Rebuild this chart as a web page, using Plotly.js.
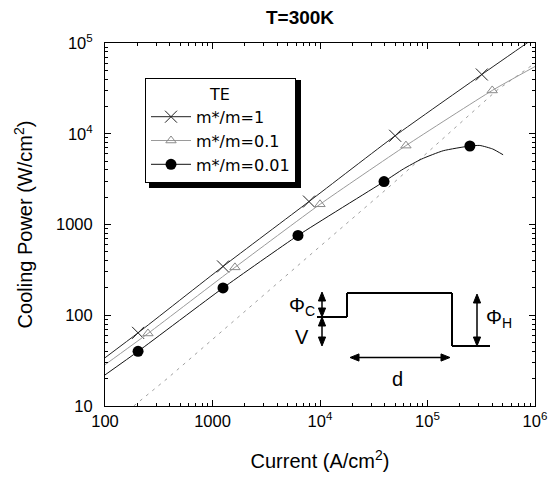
<!DOCTYPE html>
<html>
<head>
<meta charset="utf-8">
<script src="https://cdn.plot.ly/plotly-3.0.1.min.js"></script>
<style>html,body{margin:0;padding:0;background:#fff;}#chart{width:552px;height:477px;}</style>
</head>
<body>
<div id="chart"></div>
<script>
// ---- data ----
const xTickVals = [100, 1000, 1e4, 1e5, 1e6];
const xTickText = ['100', '1000', '10<sup>4</sup>', '10<sup>5</sup>', '10<sup>6</sup>'];
const yTickVals = [10, 100, 1000, 1e4, 1e5];
const yTickText = ['10', '100', '1000', '10<sup>4</sup>', '10<sup>5</sup>'];

const seriesNames = ['m*/m=1', 'm*/m=0.1', 'm*/m=0.01'];

// m*/m = 1
const m1LineX = [100, 203, 1253, 7900, 50000, 320000, 1000000];
const m1LineY = [34, 64, 345, 1790, 9500, 45000, 115000];
const m1MarkX = [203, 1253, 7900, 50000, 320000];
const m1MarkY = [64, 345, 1790, 9500, 45000];

// m*/m = 0.1
const m01LineX = [100, 251, 1617, 10000, 63000, 400000, 1000000];
const m01LineY = [28.5, 63, 337, 1670, 7400, 30000, 55000];
const m01MarkX = [251, 1617, 10000, 63000, 400000];
const m01MarkY = [63, 337, 1670, 7400, 30000];

// m*/m = 0.01
const m001LineX = [100, 203, 1253, 6240, 39400, 59600, 88300, 140000, 248000, 307000, 404000, 505000];
const m001LineY = [22, 40, 200, 757, 2970, 4090, 5270, 6500, 7330, 7430, 6790, 5870];
const m001MarkX = [203, 1253, 6240, 39400, 248000];
const m001MarkY = [40, 200, 757, 2970, 7330];

// dashed reference line
const refX = [185, 378, 8610, 44800, 440000, 1000000];
const refY = [10, 20, 492, 2650, 30000, 60000];

// ---- plot ----
const FONT = 'Liberation Sans, Arial, sans-serif';
const LFONT = 'DejaVu Sans, Liberation Sans, sans-serif';
const W = 552, H = 477;
const L = 105, R = 17, T = 43, B = 71;
const pw = W - L - R, ph = H - T - B;
const px = v => (v - L) / pw;
const py = v => (H - B - v) / ph;

const styles = [
  {line: {color: '#222', width: 1}, marker: {symbol: 'x-thin-open', size: 12, color: '#222', line: {color: '#222', width: 1}}},
  {line: {color: '#9a9a9a', width: 1}, marker: {symbol: 'triangle-up-open', size: 9, color: '#8a8a8a', line: {color: '#8a8a8a', width: 1}}},
  {line: {color: '#111', width: 1}, marker: {symbol: 'circle', size: 11, color: '#000'}}
];
const lines = [[m1LineX, m1LineY], [m01LineX, m01LineY], [m001LineX, m001LineY]];
const marks = [[m1MarkX, m1MarkY], [m01MarkX, m01MarkY], [m001MarkX, m001MarkY]];

const data = [];
data.push({x: refX, y: refY, mode: 'lines', showlegend: false, hoverinfo: 'skip',
  line: {color: '#a0a0a0', width: 1, dash: '3px,5px'}});
for (let i = 0; i < 3; i++) {
  data.push({x: lines[i][0], y: lines[i][1], mode: 'lines', showlegend: false,
    line: Object.assign({shape: 'spline', smoothing: 0.5}, styles[i].line)});
  data.push({x: marks[i][0], y: marks[i][1], mode: 'markers', showlegend: false, marker: styles[i].marker});
}
for (let i = 0; i < 3; i++) {
  data.push({x: [null], y: [null], mode: 'lines+markers', name: seriesNames[i],
    line: styles[i].line, marker: styles[i].marker});
}

// ---- inset schematic (pixel positions converted to paper) ----
function seg(x0, y0, x1, y1, w) {
  return {type: 'line', xref: 'paper', yref: 'paper', x0: px(x0), y0: py(y0), x1: px(x1), y1: py(y1),
    line: {color: '#000', width: w || 2}};
}
function head(tx, ty, dx, dy) {
  const len = 9, hw = 3.6;
  const bx = tx - dx * len, by = ty - dy * len;
  const nx = -dy, ny = dx;
  const pts = [[tx, ty], [bx + nx * hw, by + ny * hw], [bx - nx * hw, by - ny * hw]];
  const d = 'M' + pts.map(p => px(p[0]) + ',' + py(p[1])).join(' L') + ' Z';
  return {type: 'path', xref: 'paper', yref: 'paper', path: d, fillcolor: '#000', line: {color: '#000', width: 1}};
}
function dbl(xa, ya, xb, yb) {
  const Lg = Math.hypot(xb - xa, yb - ya);
  const dx = (xb - xa) / Lg, dy = (yb - ya) / Lg;
  return [seg(xa + dx * 4, ya + dy * 4, xb - dx * 4, yb - dy * 4, 1.5), head(xb, yb, dx, dy), head(xa, ya, -dx, -dy)];
}
function lab(x, y, t) {
  return {xref: 'paper', yref: 'paper', x: px(x), y: py(y), text: t, showarrow: false,
    xanchor: 'center', yanchor: 'middle', font: {family: FONT, size: 20, color: '#000'}};
}

const shapes = [
  // legend drop shadow
  {type: 'rect', xref: 'paper', yref: 'paper', x0: px(149), y0: py(80), x1: px(301), y1: py(188),
    fillcolor: '#000', line: {width: 0}, layer: 'above'},
  seg(317, 317, 347, 317), seg(347, 317, 347, 293), seg(347, 293, 452, 293),
  seg(452, 293, 452, 346), seg(452, 346, 490, 346)
].concat(dbl(322, 292, 322, 317), dbl(322, 317, 322, 346), dbl(477, 294, 477, 346), dbl(350, 357.5, 450, 357.5));

const annotations = [
  lab(302, 306, 'Φ<sub>C</sub>'), lab(302, 337, 'V'), lab(499, 318, 'Φ<sub>H</sub>'), lab(397, 379, 'd')
];

const axisCommon = {
  type: 'log', showgrid: false, zeroline: false, showline: true, linecolor: '#000', linewidth: 1,
  mirror: 'allticks', ticks: 'inside', ticklen: 6, tickwidth: 1, tickcolor: '#000',
  tickmode: 'array', tickfont: {family: FONT, size: 16.5, color: '#000'},
  minor: {dtick: 'D1', ticks: 'inside', ticklen: 3, tickwidth: 1, tickcolor: '#000', showgrid: false}
};

const layout = {
  width: W, height: H,
  margin: {l: L, r: R, t: T, b: B, pad: 0},
  paper_bgcolor: '#fff', plot_bgcolor: '#fff',
  font: {family: FONT, color: '#000'},
  title: {text: '<b>T=300K</b>', font: {family: FONT, size: 19, color: '#000'},
    xref: 'paper', x: px(300), xanchor: 'center', yref: 'container', y: 1 - 17 / H, yanchor: 'middle'},
  xaxis: Object.assign({}, axisCommon, {range: [2, 6], tickvals: xTickVals, ticktext: xTickText,
    title: {text: 'Current (A/cm<sup>2</sup>)', font: {family: FONT, size: 20, color: '#000'}, standoff: 25}}),
  yaxis: Object.assign({}, axisCommon, {range: [1, 5], tickvals: yTickVals, ticktext: yTickText,
    ticklabelstandoff: 8,
    title: {text: 'Cooling Power (W/cm<sup>2</sup>)', font: {family: FONT, size: 20, color: '#000'}, standoff: 17}}),
  showlegend: true,
  legend: {x: px(145), y: py(78), xanchor: 'left', yanchor: 'top', bgcolor: '#fff', bordercolor: '#000', borderwidth: 1,
    font: {family: LFONT, size: 16, color: '#000'}, title: {text: 'TE', side: 'top center', font: {family: LFONT, size: 16, color: '#000'}},
    itemwidth: 40, tracegroupgap: 0, itemclick: false},
  shapes: shapes,
  annotations: annotations
};

Plotly.newPlot('chart', data, layout, {displayModeBar: false, staticPlot: true});
</script>
</body>
</html>
